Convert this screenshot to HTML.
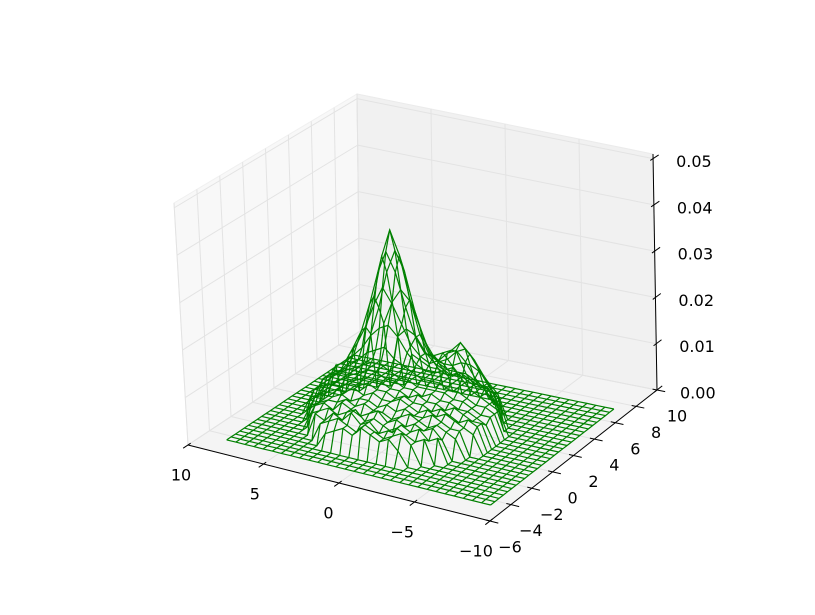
<!DOCTYPE html>
<html><head><meta charset="utf-8"><style>
html,body{margin:0;padding:0;background:#fff;}
svg{display:block;font-family:"DejaVu Sans","Liberation Sans",sans-serif;}
</style></head><body>
<svg id="chart" width="815" height="615" viewBox="0 0 815 615" xmlns="http://www.w3.org/2000/svg">
<g id="panes"></g>
<g id="grid"></g>
<g id="axes"></g>
<g id="wire"></g>
<g id="labels"></g>
</svg>
<script>
// data grid coordinates
const xs=[8.50,7.90,7.29,6.69,6.09,5.48,4.88,4.28,3.67,3.07,2.47,1.86,1.26,0.66,0.05,-0.55,-1.16,-1.76,-2.36,-2.97,-3.57,-4.17,-4.78,-5.38,-5.98,-6.59,-7.19,-7.79,-8.40,-9.00];
const ys=[-4.50,-4.09,-3.69,-3.28,-2.87,-2.47,-2.06,-1.65,-1.24,-0.84,-0.43,-0.02,0.38,0.79,1.20,1.60,2.01,2.42,2.82,3.23,3.64,4.04,4.45,4.86,5.27,5.67,6.08,6.49,6.89,7.30];
// z values in thousandths, rows = ys, cols = xs
const zRows=[
[0,0,0,0,0,0,0,0,0,0,0,0,0,0,0,0,0,0,0,0,0,0,0,0,0,0,0,0,0,0],
[0,0,0,0,0,0,0,0,0,0,0,0,0,0,0,0,0,0,0,0,0,0,0,0,0,0,0,0,0,0],
[0,0,0,0,0,0,0,0,0,0,0,0,0,0,0,0,0,0,0,0,0,0,0,0,0,0,0,0,0,0],
[0,0,0,0,0,0,0,0,0,0,0,0,0,0,0,0,0,0,0,0,0,0,0,0,0,0,0,0,0,0],
[0,0,0,0,0,0,0,0,0,3,4,5,4,6,5,4,5,3,0,0,0,0,0,0,0,0,0,0,0,0],
[0,0,0,0,0,0,0,0,4,5,6,5,4,6,5,4,5,6,4,0,0,0,0,0,0,0,0,0,0,0],
[0,0,0,0,0,0,0,5,4,6,5,7,5,6,4,5,6,5,4,5,0,0,0,0,0,0,0,0,0,0],
[0,0,0,0,0,0,4,5,6,5,6,7,5,6,5,4,6,5,6,4,5,0,0,0,0,0,0,0,0,0],
[0,0,0,0,0,0,5,6,5,7,6,5,6,7,5,6,5,6,5,6,4,0,0,0,0,0,0,0,0,0],
[0,0,0,0,0,4,5,6,6,7,6,7,6,6,5,6,7,6,5,6,5,4,0,0,0,0,0,0,0,0],
[0,0,0,0,0,5,6,6,7,6,7,7,6,7,6,7,6,6,7,6,5,5,0,0,0,0,0,0,0,0],
[0,0,0,0,4,5,6,7,7,8,7,8,7,7,8,7,6,7,6,7,6,5,4,0,0,0,0,0,0,0],
[0,0,0,0,5,6,7,7,8,8,9,8,8,7,8,7,7,6,7,6,5,6,5,0,0,0,0,0,0,0],
[0,0,0,0,5,6,7,8,8,9,9,9,8,8,7,8,7,7,6,7,6,5,5,0,0,0,0,0,0,0],
[0,0,0,0,6,7,8,8,9,10,10,9,9,8,8,7,8,7,7,6,6,5,4,0,0,0,0,0,0,0],
[0,0,0,0,6,7,8,9,10,11,11,10,9,9,8,8,8,8,7,7,6,5,5,0,0,0,0,0,0,0],
[0,0,0,0,6,7,9,10,12,13,14,12,11,10,9,9,9,8,8,7,6,6,5,0,0,0,0,0,0,0],
[0,0,0,0,7,8,10,12,15,17,18,16,13,11,10,10,11,12,10,8,7,6,5,0,0,0,0,0,0,0],
[0,0,0,0,0,9,12,16,21,25,22,18,14,12,11,12,14,15,13,10,8,6,0,0,0,0,0,0,0,0],
[0,0,0,0,0,10,14,20,27,32,28,21,15,12,12,13,14,16,14,11,8,6,0,0,0,0,0,0,0,0],
[0,0,0,0,0,0,14,21,30,36,31,22,15,11,10,11,13,14,12,9,6,0,0,0,0,0,0,0,0,0],
[0,0,0,0,0,0,12,18,26,31,27,19,13,10,9,9,10,10,9,7,5,0,0,0,0,0,0,0,0,0],
[0,0,0,0,0,0,0,14,19,22,20,15,10,8,7,7,7,6,5,4,0,0,0,0,0,0,0,0,0,0],
[0,0,0,0,0,0,0,0,11,13,12,9,7,6,5,6,5,4,4,0,0,0,0,0,0,0,0,0,0,0],
[0,0,0,0,0,0,0,0,0,7,6,5,5,4,5,4,3,3,0,0,0,0,0,0,0,0,0,0,0,0],
[0,0,0,0,0,0,0,0,0,0,0,0,0,0,0,0,0,0,0,0,0,0,0,0,0,0,0,0,0,0],
[0,0,0,0,0,0,0,0,0,0,0,0,0,0,0,0,0,0,0,0,0,0,0,0,0,0,0,0,0,0],
[0,0,0,0,0,0,0,0,0,0,0,0,0,0,0,0,0,0,0,0,0,0,0,0,0,0,0,0,0,0],
[0,0,0,0,0,0,0,0,0,0,0,0,0,0,0,0,0,0,0,0,0,0,0,0,0,0,0,0,0,0],
[0,0,0,0,0,0,0,0,0,0,0,0,0,0,0,0,0,0,0,0,0,0,0,0,0,0,0,0,0,0]
];
const xTicks=[10,5,0,-5,-10];
const xTickLabels=["10","5","0","\u22125","\u221210"];
const yTicks=[-6,-4,-2,0,2,4,6,8,10];
const yTickLabels=["\u22126","\u22124","\u22122","0","2","4","6","8","10"];
const zTicks=[0,0.01,0.02,0.03,0.04,0.05];
const zTickLabels=["0.00","0.01","0.02","0.03","0.04","0.05"];

const X0=10,X1=-10,Y0=-6,Y1=10,Z1=0.051;
const B={L:[188,445],F:[490,521],R:[657,390],K:[360,331]};
const T={L:[174,203],F:[474,271],R:[653,154],K:[357,94]};
function bil(C,u,v){
  const a=(1-u)*(1-v),b=u*(1-v),c=u*v,d=(1-u)*v;
  return [C.L[0]*a+C.F[0]*b+C.R[0]*c+C.K[0]*d, C.L[1]*a+C.F[1]*b+C.R[1]*c+C.K[1]*d];
}
function proj(x,y,z){
  const u=(x-X0)/(X1-X0), v=(y-Y0)/(Y1-Y0), w=z/Z1;
  const p=bil(B,u,v), q=bil(T,u,v);
  return [p[0]+(q[0]-p[0])*w, p[1]+(q[1]-p[1])*w];
}
const NS="http://www.w3.org/2000/svg";
function mk(tag,attrs,parent){const e=document.createElementNS(NS,tag);for(const k in attrs)e.setAttribute(k,attrs[k]);parent.appendChild(e);return e;}
function pts(arr){return arr.map(p=>p[0].toFixed(1)+","+p[1].toFixed(1)).join(" ");}

const panes=document.getElementById('panes');
let e;
e=mk('polygon',{points:pts([proj(X0,Y0,0),proj(X0,Y0,Z1),proj(X0,Y1,Z1),proj(X0,Y1,0)]),fill:'#f8f8f8',stroke:'#f0f0f0'},panes);


e=mk('polygon',{points:pts([proj(X0,Y1,0),proj(X0,Y1,Z1),proj(X1,Y1,Z1),proj(X1,Y1,0)]),fill:'#f1f1f1',stroke:'#ebebeb'},panes);


e=mk('polygon',{points:pts([proj(X0,Y0,0),proj(X1,Y0,0),proj(X1,Y1,0),proj(X0,Y1,0)]),fill:'#f4f4f4',stroke:'#eeeeee'},panes);



const grid=document.getElementById('grid');
function gl(a,b,name){const l=mk('line',{x1:a[0],y1:a[1],x2:b[0],y2:b[1],stroke:'#e3e3e3','stroke-width':1},grid);

}
yTicks.forEach(y=>{gl(proj(X0,y,0),proj(X0,y,Z1),'left-pane-gridline');gl(proj(X0,y,0),proj(X1,y,0),'floor-gridline');});
xTicks.forEach(x=>{gl(proj(x,Y1,0),proj(x,Y1,Z1),'back-pane-gridline');gl(proj(x,Y0,0),proj(x,Y1,0),'floor-gridline');});
zTicks.forEach(z=>{gl(proj(X0,Y0,z),proj(X0,Y1,z),'left-pane-gridline');gl(proj(X0,Y1,z),proj(X1,Y1,z),'back-pane-gridline');});

const axes=document.getElementById('axes');
function al(a,b,name){const l=mk('line',{x1:a[0],y1:a[1],x2:b[0],y2:b[1],stroke:'#000','stroke-width':1},axes);

}
al(proj(X0,Y0,0),proj(X1,Y0,0),'x-axis-line');
al(proj(X1,Y0,0),proj(X1,Y1,0),'y-axis-line');
al(proj(X1,Y1,0),proj(X1,Y1,Z1),'z-axis-line');
xTicks.forEach(x=>al(proj(x,Y0-0.45,0),proj(x,Y0+0.25,0),'x-tick'));
yTicks.forEach(y=>al(proj(X1-0.55,y,0),proj(X1+0.3,y,0),'y-tick'));
zTicks.forEach(z=>al(proj(X1,Y1+0.5,z),proj(X1,Y1-0.25,z),'z-tick'));

const labels=document.getElementById('labels');
function tx(p,s,anchor,name){const t=mk('text',{x:p[0].toFixed(1),y:p[1].toFixed(1),'font-size':16,fill:'#000','text-anchor':anchor,'dominant-baseline':'central'},labels);t.textContent=s;

}
xTicks.forEach((x,i)=>{const p=proj(x,Y0,0);const u=(x-X0)/(X1-X0);tx([p[0]-7-7*u,p[1]+30],xTickLabels[i],'middle','x-tick-label');});
yTicks.forEach((y,i)=>{const p=proj(X1,y,0);tx([p[0]+20,p[1]+26],yTickLabels[i],'middle','y-tick-label');});
zTicks.forEach((z,i)=>{const p=proj(X1,Y1,z);tx([p[0]+23,p[1]+3],zTickLabels[i],'start','z-tick-label');});

const wire=document.getElementById('wire');
for(let j=0;j<ys.length;j++){
  const arr=xs.map((x,i)=>proj(x,ys[j],zRows[j][i]/1000));
  const pl=mk('polyline',{points:pts(arr),fill:'none',stroke:'#008000','stroke-width':1.2},wire);
  
  
}
for(let i=0;i<xs.length;i++){
  const arr=ys.map((y,j)=>proj(xs[i],y,zRows[j][i]/1000));
  const pl=mk('polyline',{points:pts(arr),fill:'none',stroke:'#008000','stroke-width':1.2},wire);
  
  
}
</script>
</body></html>
